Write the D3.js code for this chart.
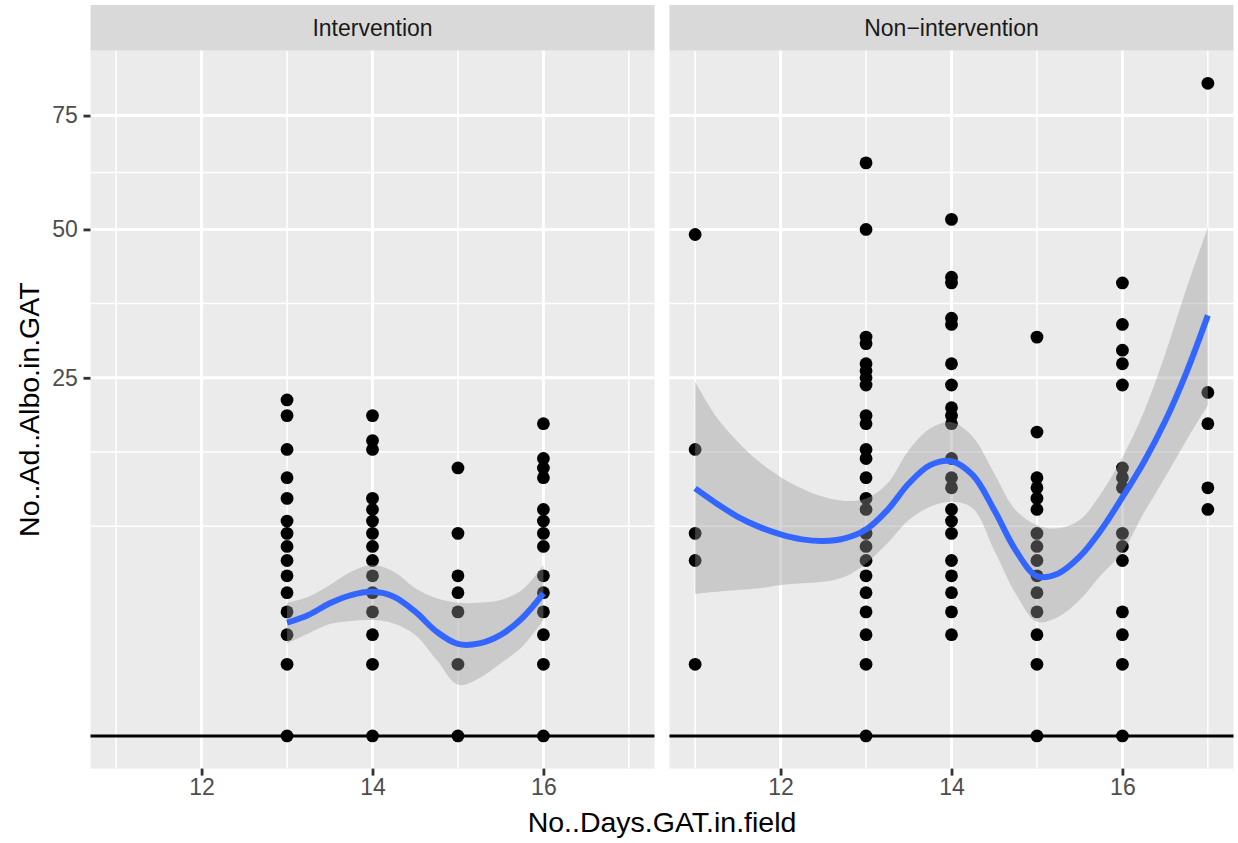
<!DOCTYPE html>
<html>
<head>
<meta charset="utf-8">
<script src="https://cdn.jsdelivr.net/npm/d3@7"></script>
<style>
  body { margin: 0; background: #ffffff; }
  svg { display: block; }
</style>
</head>
<body>
<svg id="chart" width="1238" height="843"></svg>
<script>
// ---- data -------------------------------------------------------------
const facetLabels = ["Intervention", "Non\u2212intervention"];

// Intervention: distinct adult Albo counts observed for each trap duration (days)
const daysIntervention = [13, 14, 15, 16];
const countsIntervention = [
  [22, 20, 16, 13, 11, 9, 8, 7, 6, 5, 4, 3, 2, 1, 0],
  [20, 17, 16, 11, 10, 9, 8, 7, 6, 5, 4, 3, 2, 1, 0],
  [14, 8, 5, 4, 3, 1, 0],
  [19, 15, 14, 13, 10, 9, 8, 7, 5, 4, 3, 2, 1, 0]
];

// Non-intervention
const daysNonIntervention = [11, 13, 14, 15, 16, 17];
const countsNonIntervention = [
  [49, 16, 8, 6, 1],
  [64, 50, 31, 30, 27, 26, 25, 24, 20, 19, 16, 15, 13, 11, 10, 8, 7, 6, 5, 4, 3, 2, 1, 0],
  [52, 41, 40, 34, 33, 27, 24, 21, 20, 19, 15, 13, 12, 10, 9, 8, 6, 5, 4, 3, 2],
  [31, 18, 13, 12, 11, 10, 8, 7, 6, 5, 4, 3, 2, 1, 0],
  [40, 33, 29, 27, 24, 14, 13, 12, 8, 7, 6, 3, 2, 1, 0],
  [83, 23, 19, 12, 10]
];

// Loess fit with 95% band (count scale)
const smoothDaysIntervention = [13, 13.25, 13.5, 13.75, 14, 14.25, 14.5, 14.75, 15, 15.25, 15.5, 15.75, 16];
const fitIntervention   = [2.50, 2.85, 3.43, 3.87, 4.05, 3.78, 3.01, 2.12, 1.65, 1.67, 1.99, 2.70, 3.96];
const upperIntervention = [3.46, 3.78, 4.44, 5.25, 5.69, 5.25, 4.25, 3.69, 3.46, 3.46, 3.60, 4.15, 5.69];
const lowerIntervention = [1.67, 2.05, 2.44, 2.58, 2.62, 2.47, 1.99, 1.13, 0.51, 0.65, 1.03, 1.55, 2.62];

const smoothDaysNonIntervention = [11, 11.25, 11.5, 11.75, 12, 12.25, 12.5, 12.75, 13, 13.25, 13.5, 13.75,
  14, 14.25, 14.5, 14.75, 15, 15.25, 15.5, 15.75, 16, 16.25, 16.5, 16.75, 17];
const fitNonIntervention = [11.94, 10.54, 9.36, 8.52, 7.92, 7.53, 7.40, 7.61, 8.31, 9.94, 12.42, 14.29,
  14.71, 13.25, 9.94, 6.73, 4.98, 5.15, 6.26, 8.26, 11.11, 14.61, 19.30, 25.77, 34.47];
const upperNonIntervention = [24.42, 19.83, 16.85, 14.64, 13.08, 11.94, 11.14, 10.77, 10.99, 12.42, 15.91, 18.42,
  19.18, 17.43, 13.43, 9.94, 8.66, 8.40, 9.08, 11.46, 15.15, 20.42, 28.38, 39.04, 50.39];
const lowerNonIntervention = [3.93, 4.05, 4.15, 4.25, 4.44, 4.54, 4.63, 4.94, 5.80, 7.23, 9.08, 10.23,
  10.68, 10.09, 6.73, 3.96, 2.54, 2.77, 3.60, 5.05, 6.60, 9.68, 13.05, 17.05, 21.31];

const xTicks = [12, 14, 16];
const yTicks = [25, 50, 75];
const xTitle = "No..Days.GAT.in.field";
const yTitle = "No..Ad..Albo.in.GAT";

// ---- layout ----------------------------------------------------------
const font = "'Liberation Sans', Arial, Helvetica, sans-serif";
const stripTop = 5, panelTop = 50.7, panelBottom = 768.6;
const panelX = [[90.5, 654.5], [669.5, 1233.5]];
const tickLen = 7;

const svg = d3.select("#chart");

const facets = [
  { label: facetLabels[0], days: daysIntervention, counts: countsIntervention,
    sx: smoothDaysIntervention, fit: fitIntervention, hi: upperIntervention, lo: lowerIntervention },
  { label: facetLabels[1], days: daysNonIntervention, counts: countsNonIntervention,
    sx: smoothDaysNonIntervention, fit: fitNonIntervention, hi: upperNonIntervention, lo: lowerNonIntervention }
];

// shared scales (ggplot-style 5% expansion; y on square-root transform)
const allDays = facets.flatMap(f => f.days);
const [xMin, xMax] = d3.extent(allDays);
const xPad = (xMax - xMin) * 0.05;
const allY = facets.flatMap(f => [...f.counts.flat(), ...f.hi, ...f.lo]);
const sMin = Math.sqrt(d3.min(allY)), sMax = Math.sqrt(d3.max(allY));
const sPad = (sMax - sMin) * 0.05;
const sLo = sMin - sPad, sHi = sMax + sPad;
const y = d3.scaleSqrt()
  .domain([Math.sign(sLo) * sLo * sLo, sHi * sHi])
  .range([panelBottom, panelTop]);

// minor breaks: midpoints between major breaks in transformed space
const sMajor = yTicks.map(Math.sqrt);
const bd = sMajor[1] - sMajor[0];
const sExt = [sMajor[0] - bd, ...sMajor, sMajor[sMajor.length - 1] + bd];
const sMinor = [sExt[0]];
for (let i = 0; i < sExt.length - 1; i++) sMinor.push((sExt[i] + sExt[i + 1]) / 2);
const yMinor = sMinor.filter(s => s > sLo && s < sHi).map(s => s * s);

const xExt = [xTicks[0] - (xTicks[1] - xTicks[0]), ...xTicks, xTicks[xTicks.length - 1] + (xTicks[1] - xTicks[0])];
const xMinor = [];
for (let i = 0; i < xExt.length - 1; i++) xMinor.push((xExt[i] + xExt[i + 1]) / 2);

facets.forEach((f, i) => {
  const [x0, x1] = panelX[i];
  const x = d3.scaleLinear().domain([xMin - xPad, xMax + xPad]).range([x0, x1]);
  const dom = x.domain();
  const g = svg.append("g");

  // strip
  g.append("rect").attr("x", x0).attr("y", stripTop)
    .attr("width", x1 - x0).attr("height", panelTop - stripTop).attr("fill", "#D9D9D9");
  g.append("text").attr("x", (x0 + x1) / 2).attr("y", (stripTop + panelTop) / 2)
    .attr("dy", "0.36em").attr("text-anchor", "middle")
    .attr("font-family", font).attr("font-size", 23).attr("fill", "#1A1A1A")
    .text(f.label);

  // panel background
  g.append("rect").attr("x", x0).attr("y", panelTop)
    .attr("width", x1 - x0).attr("height", panelBottom - panelTop).attr("fill", "#EBEBEB");

  // grid
  g.selectAll(".ymin").data(yMinor).join("line")
    .attr("x1", x0).attr("x2", x1).attr("y1", d => y(d)).attr("y2", d => y(d))
    .attr("stroke", "#ffffff").attr("stroke-width", 1.5);
  g.selectAll(".xmin").data(xMinor.filter(v => v > dom[0] && v < dom[1])).join("line")
    .attr("y1", panelTop).attr("y2", panelBottom).attr("x1", d => x(d)).attr("x2", d => x(d))
    .attr("stroke", "#ffffff").attr("stroke-width", 1.5);
  g.selectAll(".ymaj").data(yTicks).join("line")
    .attr("x1", x0).attr("x2", x1).attr("y1", d => y(d)).attr("y2", d => y(d))
    .attr("stroke", "#ffffff").attr("stroke-width", 3);
  g.selectAll(".xmaj").data(xTicks).join("line")
    .attr("y1", panelTop).attr("y2", panelBottom).attr("x1", d => x(d)).attr("x2", d => x(d))
    .attr("stroke", "#ffffff").attr("stroke-width", 3);

  // reference line at zero
  g.append("line").attr("x1", x0).attr("x2", x1).attr("y1", y(0)).attr("y2", y(0))
    .attr("stroke", "#000000").attr("stroke-width", 3);

  // observations
  const pts = f.days.flatMap((d, k) => f.counts[k].map(c => ({ x: d, y: c })));
  g.selectAll(".pt").data(pts).join("circle")
    .attr("cx", d => x(d.x)).attr("cy", d => y(d.y)).attr("r", 6.4).attr("fill", "#000000");

  // smoother with confidence band
  const sm = f.sx.map((d, k) => ({ x: d, fit: f.fit[k], hi: f.hi[k], lo: f.lo[k] }));
  g.append("path").datum(sm)
    .attr("d", d3.area().x(d => x(d.x)).y0(d => y(d.lo)).y1(d => y(d.hi)).curve(d3.curveCatmullRom))
    .attr("fill", "#999999").attr("fill-opacity", 0.4);
  g.append("path").datum(sm)
    .attr("d", d3.line().x(d => x(d.x)).y(d => y(d.fit)).curve(d3.curveCatmullRom))
    .attr("fill", "none").attr("stroke", "#3366FF").attr("stroke-width", 6);

  // x axis
  const xa = svg.append("g").attr("transform", `translate(0,${panelBottom})`)
    .call(d3.axisBottom(x).tickValues(xTicks).tickSize(tickLen).tickPadding(3).tickFormat(d3.format("d")));
  xa.select(".domain").remove();
  xa.selectAll(".tick line").attr("stroke", "#333333").attr("stroke-width", 2.8);
  xa.selectAll(".tick text").attr("fill", "#4D4D4D").attr("font-size", 23).attr("font-family", font);

  // y axis on the first panel only
  if (i === 0) {
    const ya = svg.append("g").attr("transform", `translate(${x0},0)`)
      .call(d3.axisLeft(y).tickValues(yTicks).tickSize(tickLen).tickPadding(5.7).tickFormat(d3.format("d")));
    ya.select(".domain").remove();
    ya.selectAll(".tick line").attr("stroke", "#333333").attr("stroke-width", 2.8);
    ya.selectAll(".tick text").attr("fill", "#4D4D4D").attr("font-size", 23).attr("font-family", font);
  }
});

// axis titles
svg.append("text").attr("x", (panelX[0][0] + panelX[1][1]) / 2).attr("y", 832)
  .attr("text-anchor", "middle").attr("font-family", font).attr("font-size", 28.5)
  .attr("fill", "#000000").text(xTitle);
svg.append("text")
  .attr("transform", `translate(38.5,${(panelTop + panelBottom) / 2}) rotate(-90)`)
  .attr("text-anchor", "middle").attr("font-family", font).attr("font-size", 28.5)
  .attr("fill", "#000000").text(yTitle);
</script>
</body>
</html>
